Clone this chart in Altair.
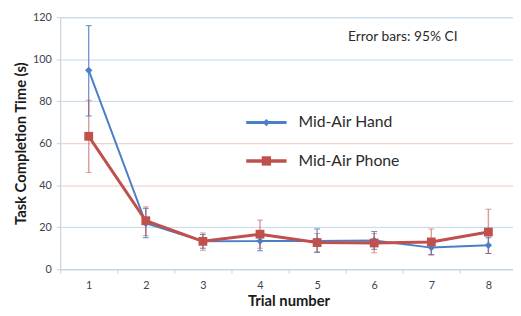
import altair as alt
import pandas as pd

trials = [1, 2, 3, 4, 5, 6, 7, 8]
series_names = ["Mid-Air Hand", "Mid-Air Phone"]
hand_mean = [94.7, 21.9, 13.3, 13.4, 13.4, 13.7, 10.3, 11.4]
hand_lo = [73.0, 15.0, 10.0, 8.8, 8.0, 9.5, 7.0, 7.5]
hand_hi = [116.0, 29.0, 16.5, 18.0, 19.2, 18.0, 13.5, 15.0]
phone_mean = [63.3, 23.1, 13.3, 16.7, 12.7, 12.5, 13.0, 17.7]
phone_lo = [46.1, 16.0, 9.0, 10.0, 8.3, 7.8, 6.7, 7.5]
phone_hi = [80.5, 29.7, 17.3, 23.4, 17.0, 17.0, 19.2, 28.6]
y_ticks = [0, 20, 40, 60, 80, 100, 120]
note_text = "Error bars: 95% CI"

BLUE = "#4a7ec6"
RED = "#c0504d"
FONT = "Lato"

rows = []
for name, m, lo, hi in [
    (series_names[0], hand_mean, hand_lo, hand_hi),
    (series_names[1], phone_mean, phone_lo, phone_hi),
]:
    for t, a, b, c in zip(trials, m, lo, hi):
        rows.append({"series": name, "trial": str(t), "mean": a, "lo": b, "hi": c})
df = pd.DataFrame(rows)
hand = df[df.series == series_names[0]]
phone = df[df.series == series_names[1]]

x_enc = alt.X(
    "trial:O",
    sort=[str(t) for t in trials],
    scale=alt.Scale(type="band", range=[0, 464], paddingInner=0, paddingOuter=0),
    axis=alt.Axis(
        title="Trial number", labelAngle=0, tickBand="extent", grid=False,
        domainColor="#c5d3e2", tickColor="#c5d3e2", tickSize=4,
        labelColor="#3a4350", labelFontSize=11, labelPadding=7, labelFont=FONT,
        titleFont=FONT, titleFontSize=15, titleFontWeight="bold", titleColor="#1a1a1a",
        titlePadding=3,
    ),
)
y_scale = alt.Scale(domain=[0, 120], nice=False)
y_axis = alt.Axis(
    title="Task Completion Time (s)", values=y_ticks,
    grid=True,
    gridColor={"condition": {"test": "datum.value == 40 || datum.value == 60", "value": "#efc6bf"}, "value": "#c3d7ea"},
    domainColor="#c5d3e2", tickColor="#c5d3e2", tickSize=4,
    labelColor="#3a4350", labelFontSize=11, labelPadding=5, labelFont=FONT,
    titleFont=FONT, titleFontSize=15, titleFontWeight="bold", titleColor="#1a1a1a",
    titlePadding=4,
)

def err_layers(d, color, width, op):
    base = alt.Chart(d)
    rule = base.mark_rule(color=color, strokeWidth=width, opacity=op).encode(
        x=x_enc, y=alt.Y("lo:Q", scale=y_scale, axis=y_axis), y2="hi:Q")
    cap_hi = base.mark_tick(color=color, size=6, thickness=1, opacity=op).encode(
        x=x_enc, y=alt.Y("hi:Q", scale=y_scale, axis=y_axis))
    cap_lo = base.mark_tick(color=color, size=6, thickness=1, opacity=op).encode(
        x=x_enc, y=alt.Y("lo:Q", scale=y_scale, axis=y_axis))
    return [rule, cap_hi, cap_lo]

hand_line = alt.Chart(hand).mark_line(color=BLUE, strokeWidth=2).encode(
    x=x_enc, y=alt.Y("mean:Q", scale=y_scale, axis=y_axis))
phone_line = alt.Chart(phone).mark_line(color=RED, strokeWidth=3).encode(
    x=x_enc, y=alt.Y("mean:Q", scale=y_scale, axis=y_axis))
hand_pts = alt.Chart(hand).mark_point(shape="diamond", filled=True, color=BLUE, size=55, opacity=1).encode(
    x=x_enc, y=alt.Y("mean:Q", scale=y_scale, axis=y_axis))
phone_pts = alt.Chart(phone).mark_point(shape="square", filled=True, color=RED, size=80, opacity=1).encode(
    x=x_enc, y=alt.Y("mean:Q", scale=y_scale, axis=y_axis))

# manual legend
leg = pd.DataFrame({"series": series_names})
leg_hand = leg[leg.series == series_names[0]]
leg_phone = leg[leg.series == series_names[1]]
leg_layers = []
for d, color, yv, shape, sz, sw in [
    (leg_hand, BLUE, 107, "diamond", 55, 3),
    (leg_phone, RED, 146, "square", 90, 3.5),
]:
    leg_layers.append(alt.Chart(d).mark_rule(color=color, strokeWidth=sw).encode(
        x=alt.value(189), x2=alt.value(230), y=alt.value(yv)))
    leg_layers.append(alt.Chart(d).mark_point(shape=shape, filled=True, color=color, size=sz, opacity=1).encode(
        x=alt.value(209.5), y=alt.value(yv)))
    leg_layers.append(alt.Chart(d).mark_text(align="left", baseline="middle", font=FONT, fontSize=16, color="#2b2b2b").encode(
        x=alt.value(242), y=alt.value(yv), text="series:N"))

note = alt.Chart(pd.DataFrame({"t": [note_text]})).mark_text(
    align="center", baseline="middle", font=FONT, fontSize=14, color="#2b2b2b").encode(
    x=alt.value(348), y=alt.value(20), text="t:N")

layers = (err_layers(hand, BLUE, 1.2, 0.9) + err_layers(phone, RED, 1.5, 0.55)
          + [hand_line, phone_line, hand_pts, phone_pts] + leg_layers + [note])

chart = alt.layer(*layers).properties(
    width=460, height=256,
    autosize=alt.AutoSizeParams(type="none"),
    padding={"left": 53, "top": 7, "right": 0, "bottom": 37},
).configure_view(strokeWidth=0).configure(background="white")

chart.save("out.html", embed_options={"renderer": "svg", "actions": False})
